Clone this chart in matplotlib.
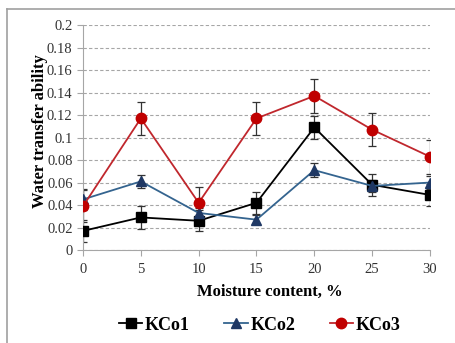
import matplotlib.pyplot as plt
from matplotlib.lines import Line2D

# Data
moisture = [0, 5, 10, 15, 20, 25, 30]
kco1 = [0.017, 0.029, 0.026, 0.042, 0.109, 0.058, 0.049]
kco1_err = [0.0095, 0.010, 0.0095, 0.010, 0.010, 0.010, 0.010]
kco2 = [0.045, 0.061, 0.033, 0.027, 0.071, 0.057, 0.060]
kco2_err = [0.009, 0.006, 0.004, 0.004, 0.006, 0.005, 0.006]
kco3 = [0.039, 0.117, 0.042, 0.117, 0.137, 0.107, 0.083]
kco3_err = [0.014, 0.015, 0.014, 0.015, 0.015, 0.0145, 0.015]
yticks = [0, 0.02, 0.04, 0.06, 0.08, 0.1, 0.12, 0.14, 0.16, 0.18, 0.2]
ytick_labels = ["0", "0.02", "0.04", "0.06", "0.08", "0.1", "0.12", "0.14", "0.16", "0.18", "0.2"]

plt.rcParams['font.family'] = ['Liberation Serif', 'DejaVu Serif']

fig = plt.figure(figsize=(4.55, 3.43), dpi=100)
ax = fig.add_axes([0.1824, 0.271, 0.7626, 0.656])

# outer frame (left and top edges only)
fig.add_artist(Line2D([0.0154, 0.0154], [0, 0.974], color='#a0a0a0', lw=1.2, transform=fig.transFigure))
fig.add_artist(Line2D([0.0154, 1], [0.974, 0.974], color='#a0a0a0', lw=1.2, transform=fig.transFigure))

series = [
    (kco1, kco1_err, 'KCo1', '#000000', '#000000', 's', 7),
    (kco2, kco2_err, 'KCo2', '#34648f', '#1f3864', '^', 7),
    (kco3, kco3_err, 'KCo3', '#c0272d', '#c00000', 'o', 7.5),
]
handles = []
for vals, err, name, lc, mc, mk, ms in series:
    ax.errorbar(moisture, vals, yerr=err, fmt='none', ecolor='#333333',
                elinewidth=0.9, capsize=3, capthick=0.9, zorder=2)
    h, = ax.plot(moisture, vals, color=lc, lw=1.3, marker=mk, markersize=ms,
                 markerfacecolor=mc, markeredgecolor=mc, label=name, zorder=3)
    handles.append(h)

ax.set_xlim(0, 30)
ax.set_ylim(0, 0.2)
ax.set_xticks(moisture)
ax.set_yticks(yticks)
ax.set_yticklabels(ytick_labels)
ax.yaxis.grid(True, linestyle=(0, (3, 2)), color='#a6a6a6', lw=0.8)
ax.set_axisbelow(True)

for s in ['top', 'right']:
    ax.spines[s].set_visible(False)
for s in ['left', 'bottom']:
    ax.spines[s].set_color('#a6a6a6')
ax.tick_params(axis='both', direction='out', length=4, color='#a6a6a6',
               labelsize=10.5, labelcolor='#333333')
ax.tick_params(axis='x', pad=5)

ax.set_xlabel('Moisture content, %', fontsize=12, fontweight='bold')
ax.xaxis.set_label_coords(0.539, -0.152)
ax.set_ylabel('Water transfer ability', fontsize=12, fontweight='bold')
ax.yaxis.set_label_coords(-0.10, 0.53)

fig.legend(handles=handles, loc='center', bbox_to_anchor=(0.571, 0.052), ncol=3,
           frameon=False, prop={'size': 13, 'weight': 'bold'}, handlelength=1.3,
           handletextpad=0.15, columnspacing=1.9)

fig.savefig('out.png', dpi=100)
